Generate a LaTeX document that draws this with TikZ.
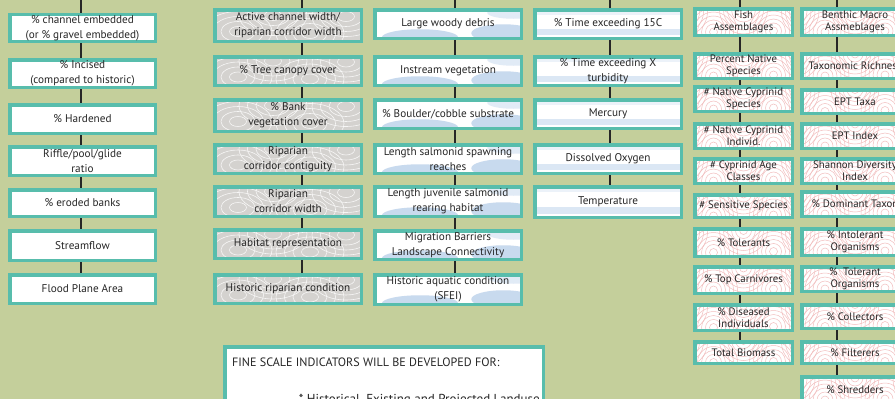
\documentclass[tikz,border=0pt]{standalone}
\usepackage{fontspec}
\setmainfont{PT Sans}
\usetikzlibrary{calc}
\definecolor{bg}{RGB}{196,207,155}
\definecolor{tealb}{RGB}{88,189,172}
\definecolor{marble}{RGB}{212,210,207}
\definecolor{cloud}{RGB}{200,218,238}
\definecolor{swirl}{RGB}{242,190,190}
\definecolor{txt}{RGB}{38,38,38}
\tikzset{
  box/.style={draw=tealb, line width=3.5pt, fill=white, inner sep=1pt, align=center,
    font=\fontsize{11.2}{15}\selectfont, text=txt},
  smallbox/.style={box, inner sep=0pt, font=\fontsize{10.8}{12}\selectfont},
  marbletex/.style={fill=marble, path picture={
    \foreach \a/\b in {-50/-6, -15/10, 22/-8, 58/9}{
      \foreach \r in {5,10,15,20}{
        \draw[white, line width=.6pt, opacity=.8] ($(path picture bounding box.center)+(\a pt,\b pt)$) ellipse ({\r*1.7pt} and {\r pt});
      }}}},
  cloudtex/.style={path picture={
    \fill[cloud] ($(path picture bounding box.south)+(-28pt,1pt)$) ellipse (38pt and 8pt);
    \fill[cloud] ($(path picture bounding box.south east)+(-18pt,5pt)$) ellipse (32pt and 9pt);
    \fill[cloud!55] ($(path picture bounding box.north east)+(-8pt,-3pt)$) ellipse (26pt and 6pt);
  }},
  bandtex/.style={path picture={
    \fill[cloud!65] ($(path picture bounding box.south west)+(0,3pt)$) rectangle ($(path picture bounding box.east)+(0,-5pt)$);
    \fill[cloud!35] ($(path picture bounding box.north west)$) rectangle ($(path picture bounding box.north east)+(0,-5pt)$);
  }},
  swirltex/.style={path picture={
    \foreach \a/\b in {-60/10, -30/-10, 0/12, 30/-9, 62/10}{
      \foreach \r in {4,8,...,24}{
        \draw[swirl, line width=.5pt] ($(path picture bounding box.center)+(\a pt,\b pt)$) circle (\r pt);
      }}}},
  conn/.style={line width=2pt, draw=black!85},
}
\newcommand\bx[7]{\node[#2, minimum width=#5pt, minimum height=#6pt] (#1) at (#3,#4) {#7};}
\begin{document}
\begin{tikzpicture}[x=1pt, y=-1pt]
\useasboundingbox (0,0) rectangle (895,399);
\fill[bg] (0,0) rectangle (895,399);
\clip (0,0) rectangle (895,399);

% column 1
\bx{a1}{box}{82.5}{28}{145.5}{26.5}{\% channel embedded\\(or \% gravel embedded)}
\bx{a2}{box}{82.5}{73.5}{145.5}{27.5}{\% Incised\\(compared to historic)}
\bx{a3}{box}{82.5}{119}{145.5}{28.5}{\% Hardened}
\bx{a4}{box}{82.5}{161}{145.5}{28.5}{Riffle/pool/glide\\ratio}
\bx{a5}{box}{82.5}{203}{145.5}{26.5}{\% eroded banks}
\bx{a6}{box}{82.5}{245.5}{145.5}{29.5}{Streamflow}
\bx{a7}{box}{82.5}{289}{145.5}{28.5}{Flood Plane Area}

% column 2
\bx{b1}{box,marbletex}{288}{25.5}{146.5}{31.5}{Active channel width/\\riparian corridor width}
\bx{b2}{box,marbletex}{288}{71}{146.5}{28.5}{\% Tree canopy cover}
\bx{b3}{box,marbletex}{288}{115.5}{146.5}{31.5}{\% Bank\\vegetation cover}
\bx{b4}{box,marbletex}{288}{159}{146.5}{28.5}{Riparian\\corridor contiguity}
\bx{b5}{box,marbletex}{288}{201.5}{146.5}{29.5}{Riparian\\corridor width}
\bx{b6}{box,marbletex}{288}{244}{146.5}{28.5}{Habitat representation}
\bx{b7}{box,marbletex}{288}{289}{146.5}{28.5}{Historic riparian condition}

% column 3
\bx{c1}{box,cloudtex}{448}{24}{146.5}{28.5}{Large woody debris}
\bx{c2}{box,cloudtex}{448}{71}{146.5}{28.5}{Instream vegetation}
\bx{c3}{box,cloudtex}{448}{114}{146.5}{28.5}{\% Boulder/cobble substrate}
\bx{c4}{box,cloudtex}{448}{159}{146.5}{28.5}{Length salmonid spawning\\reaches}
\bx{c5}{box,cloudtex}{448}{201.5}{146.5}{29.5}{Length juvenile salmonid\\rearing habitat}
\bx{c6}{box,cloudtex}{448}{245}{146.5}{28.5}{Migration Barriers\\Landscape Connectivity}
\bx{c7}{box,cloudtex}{448}{289.5}{146.5}{29.5}{Historic aquatic condition\\(SFEI)}

% column 4
\bx{d1}{box,bandtex}{608}{24}{146.5}{28.5}{\% Time exceeding 15C}
\bx{d2}{box,bandtex}{608}{71}{146.5}{28.5}{\% Time exceeding X\\turbidity}
\bx{d3}{box,bandtex}{608}{114}{146.5}{28.5}{Mercury}
\bx{d4}{box,bandtex}{608}{159}{146.5}{28.5}{Dissolved Oxygen}
\bx{d5}{box,bandtex}{608}{202}{146.5}{30.5}{Temperature}

% fish column
\bx{e1}{smallbox,swirltex}{743.5}{22}{97.5}{26.5}{Fish\\Assemblages}
\bx{e2}{smallbox,swirltex}{743.5}{66}{97.5}{24.5}{Percent Native\\Species}
\bx{e3}{smallbox,swirltex}{743.5}{99}{97.5}{24.5}{\# Native Cyprinid\\Species}
\bx{e4}{smallbox,swirltex}{743.5}{136}{97.5}{24.5}{\# Native Cyprinid\\Individ.}
\bx{e5}{smallbox,swirltex}{743.5}{171}{97.5}{24.5}{\# Cyprinid Age\\Classes}
\bx{e6}{smallbox,swirltex}{743.5}{206}{97.5}{22.5}{\# Sensitive Species}
\bx{e7}{smallbox,swirltex}{743.5}{242.5}{97.5}{27.5}{\% Tolerants}
\bx{e8}{smallbox,swirltex}{743.5}{280}{97.5}{26.5}{\% Top Carnivores}
\bx{e9}{smallbox,swirltex}{743.5}{317.5}{97.5}{25.5}{\% Diseased\\Individuals}
\bx{e10}{smallbox,swirltex}{743.5}{352.5}{97.5}{21.5}{Total Biomass}

% benthic column
\bx{f1}{smallbox,swirltex}{855}{22}{106.5}{26.5}{Benthic Macro\\Assmeblages}
\bx{f2}{smallbox,swirltex}{855}{66}{106.5}{24.5}{Taxonomic Richness}
\bx{f3}{smallbox,swirltex}{855}{101.5}{106.5}{23.5}{EPT Taxa}
\bx{f4}{smallbox,swirltex}{855}{136}{106.5}{24.5}{EPT Index}
\bx{f5}{smallbox,swirltex}{855}{171}{106.5}{24.5}{Shannon Diversity\\Index}
\bx{f6}{smallbox,swirltex}{855}{204}{106.5}{24.5}{\% Dominant Taxon}
\bx{f7}{smallbox,swirltex}{855}{242}{106.5}{26.5}{\% Intolerant\\Organisms}
\bx{f8}{smallbox,swirltex}{855}{279}{106.5}{24.5}{\%\ \ Tolerant\\Organisms}
\bx{f9}{smallbox,swirltex}{855}{316.5}{106.5}{23.5}{\% Collectors}
\bx{f10}{smallbox,swirltex}{855}{352.5}{106.5}{21.5}{\% Filterers}
\bx{f11}{smallbox,swirltex}{855}{390}{106.5}{26.5}{\% Shredders}

% connectors
\foreach \s/\p/\q in {-1.5/a1/a2,-1.5/a2/a3,-1.5/a3/a4,-1.5/a4/a5,-1.5/a5/a6,-1.5/a6/a7,
  14/b1/b2,14/b2/b3,14/b3/b4,14/b4/b5,14/b5/b6,14/b6/b7,
  7/c1/c2,7/c2/c3,7/c3/c4,7/c4/c5,7/c5/c6,7/c6/c7,
  2/d1/d2,2/d2/d3,2/d3/d4,2/d4/d5,
  -3.5/e1/e2,-3.5/e2/e3,-3.5/e3/e4,-3.5/e4/e5,-3.5/e5/e6,-3.5/e6/e7,-3.5/e7/e8,-3.5/e8/e9,-3.5/e9/e10,
  -18/f1/f2,-18/f2/f3,-18/f3/f4,-18/f4/f5,-18/f5/f6,-18/f6/f7,-18/f7/f8,-18/f8/f9,-18/f9/f10,-18/f10/f11}{
  \draw[conn] ([xshift=\s pt]\p.south) -- ([xshift=\s pt]\q.north);
}
\foreach \s/\p in {-1.5/a1,14/b1,7/c1,2/d1,-3.5/e1,-18/f1}{
  \coordinate (top\p) at ([xshift=\s pt]\p.north);
  \draw[conn] (top\p) -- (top\p |- 0,-2);
}

% fine scale box
\node[draw=tealb, line width=3.5pt, fill=white, minimum width=318.5pt, minimum height=81.5pt] (fine) at (384,387.5) {};
\node[anchor=base west, font=\fontsize{12.1}{14}\selectfont, text=txt, inner sep=0pt] (fine1) at (232,366) {FINE SCALE INDICATORS WILL BE DEVELOPED FOR:};
\node[anchor=base east, font=\fontsize{13}{15}\selectfont, text=txt, inner sep=0pt] (fine2) at (540,403) {* Historical, Existing and Projected Landuse};
\end{tikzpicture}
\end{document}
